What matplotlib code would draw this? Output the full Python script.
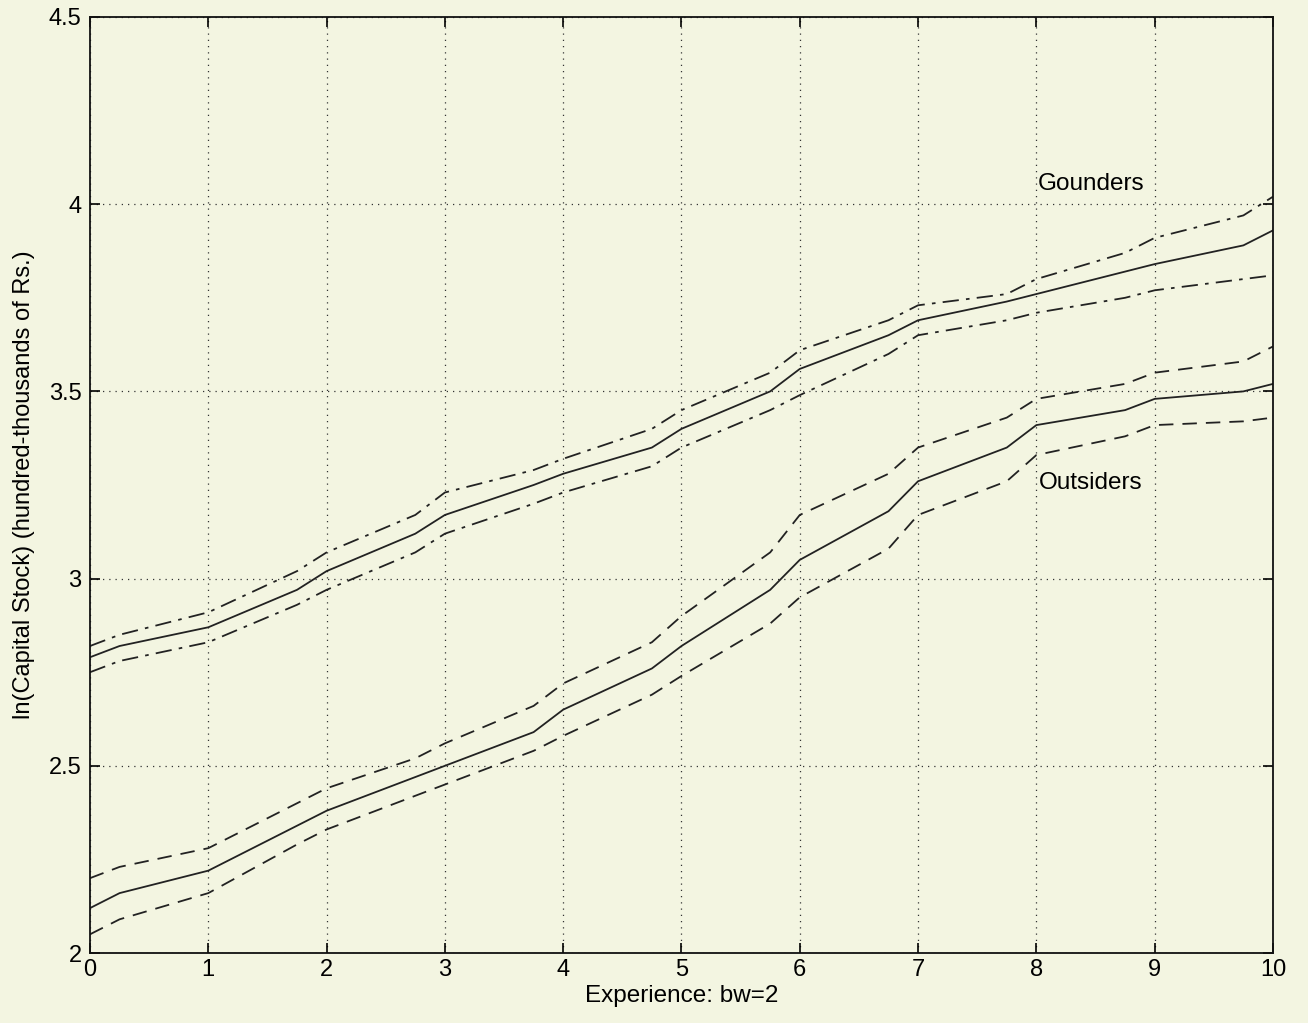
import numpy as np
import matplotlib.pyplot as plt

plt.rcParams['font.family'] = ['Liberation Sans', 'DejaVu Sans']

# experience grid (years)
exper = [0, 0.25, 1, 1.75, 2, 2.75, 3, 3.75, 4, 4.75, 5, 5.75, 6, 6.75, 7, 7.75, 8, 8.75, 9, 9.75, 10]

# Gounders: kernel estimate with upper/lower bands
gounders = [2.79, 2.82, 2.87, 2.97, 3.02, 3.12, 3.17, 3.25, 3.28, 3.35, 3.40,
            3.50, 3.56, 3.65, 3.69, 3.74, 3.76, 3.82, 3.84, 3.89, 3.93]
gounders_hi = [2.82, 2.85, 2.91, 3.02, 3.07, 3.17, 3.23, 3.29, 3.32, 3.40, 3.45,
               3.55, 3.61, 3.69, 3.73, 3.76, 3.80, 3.87, 3.91, 3.97, 4.02]
gounders_lo = [2.75, 2.78, 2.83, 2.93, 2.97, 3.07, 3.12, 3.20, 3.23, 3.30, 3.35,
               3.45, 3.49, 3.60, 3.65, 3.69, 3.71, 3.75, 3.77, 3.80, 3.81]

# Outsiders
outsiders = [2.12, 2.16, 2.22, 2.34, 2.38, 2.47, 2.50, 2.59, 2.65, 2.76, 2.82,
             2.97, 3.05, 3.18, 3.26, 3.35, 3.41, 3.45, 3.48, 3.50, 3.52]
outsiders_hi = [2.20, 2.23, 2.28, 2.40, 2.44, 2.52, 2.56, 2.66, 2.72, 2.83, 2.90,
                3.07, 3.17, 3.28, 3.35, 3.43, 3.48, 3.52, 3.55, 3.58, 3.62]
outsiders_lo = [2.05, 2.09, 2.16, 2.29, 2.33, 2.42, 2.45, 2.54, 2.58, 2.69, 2.74,
                2.88, 2.95, 3.08, 3.17, 3.26, 3.33, 3.38, 3.41, 3.42, 3.43]

x_ticks = list(range(0, 11))
y_ticks = [2, 2.5, 3, 3.5, 4, 4.5]
bg = '#f3f5e1'

fig = plt.figure(figsize=(13.08, 10.23), dpi=100, facecolor=bg)
ax = fig.add_axes([0.0688, 0.0684, 0.9044, 0.915], facecolor=bg)

ink = '#222222'
ax.plot(exper, gounders, color=ink, lw=1.3)
ax.plot(exper, gounders_hi, color=ink, lw=1.3, dashes=(9, 4, 2, 4))
ax.plot(exper, gounders_lo, color=ink, lw=1.3, dashes=(9, 4, 2, 4))
ax.plot(exper, outsiders, color=ink, lw=1.3)
ax.plot(exper, outsiders_hi, color=ink, lw=1.3, dashes=(8, 5))
ax.plot(exper, outsiders_lo, color=ink, lw=1.3, dashes=(8, 5))

ax.text(8.46, 4.055, 'Gounders', ha='center', va='center', fontsize=17.5)
ax.text(8.46, 3.255, 'Outsiders', ha='center', va='center', fontsize=17.5)

ax.set_xlim(0, 10)
ax.set_ylim(2, 4.5)
ax.set_xticks(x_ticks)
ax.set_yticks(y_ticks)
ax.set_yticklabels(['2', '2.5', '3', '3.5', '4', '4.5'])
ax.tick_params(direction='in', length=7, width=1.2, labelsize=17, top=True, right=True)
ax.tick_params(axis='y', pad=6)
ax.tick_params(axis='x', pad=4)
ax.grid(True, color='#333333', linestyle=(0, (1, 4)), lw=0.9)
for s in ax.spines.values():
    s.set_linewidth(1.3)
    s.set_color('#111111')

ax.set_xlabel('Experience: bw=2', fontsize=17.5, labelpad=3)
ax.set_ylabel('ln(Capital Stock) (hundred-thousands of Rs.)', fontsize=17, labelpad=10)

fig.savefig('out.png', dpi=100, facecolor=bg)
